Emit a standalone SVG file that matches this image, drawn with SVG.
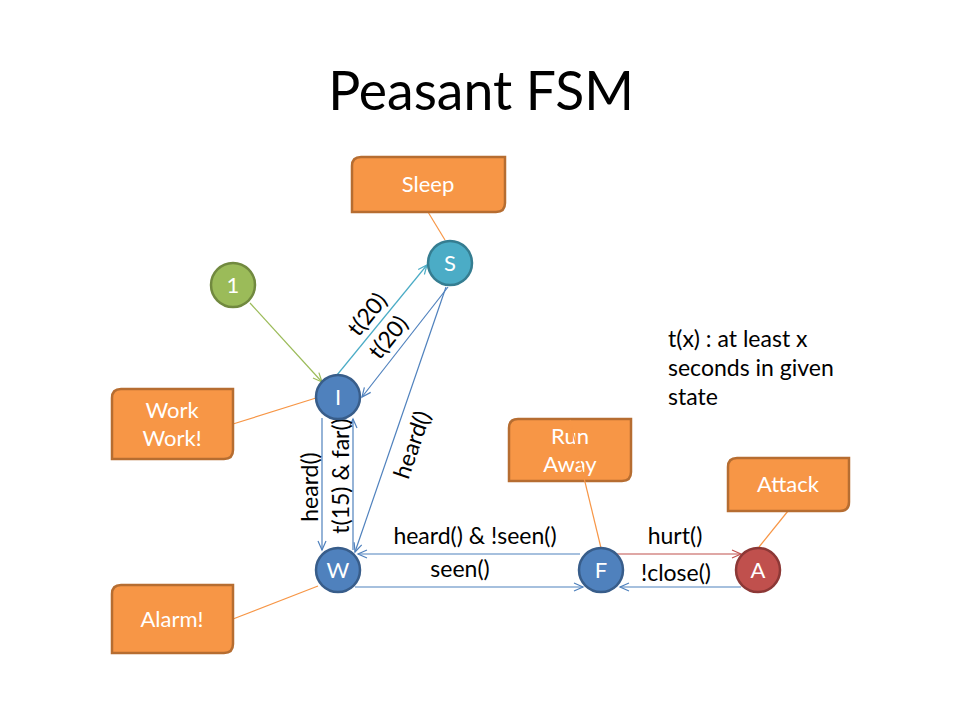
<svg xmlns="http://www.w3.org/2000/svg" width="960" height="720" viewBox="0 0 960 720">
<style>
text{font-family:Lato,"Open Sans","Liberation Sans",sans-serif;}
.title{font-size:53.5px;fill:#000;text-anchor:middle;}
.box{fill:#F79646;stroke:#B66D31;stroke-width:2.5;}
.bt{font-size:22px;fill:#fff;text-anchor:middle;}
.st{font-size:22px;fill:#fff;text-anchor:middle;}
.lbl{font-size:23px;fill:#000;text-anchor:middle;}
.note{font-size:23px;fill:#000;}
.cl{stroke:#F79646;stroke-width:1.2;fill:none;}
.e{fill:none;stroke-width:1.2;}
.blue{stroke:#4F81BD;}
.lb{stroke:#4BACC6;}
.green{stroke:#9BBB59;}
.red{stroke:#C0504D;}
</style>
<defs>
<marker id="ab" markerUnits="userSpaceOnUse" markerWidth="12" markerHeight="12" refX="10" refY="5" orient="auto"><path d="M1,1 L10,5 L1,9" fill="none" stroke="#4F81BD" stroke-width="1.2"/></marker>
<marker id="alb" markerUnits="userSpaceOnUse" markerWidth="12" markerHeight="12" refX="10" refY="5" orient="auto"><path d="M1,1 L10,5 L1,9" fill="none" stroke="#4BACC6" stroke-width="1.2"/></marker>
<marker id="ag" markerUnits="userSpaceOnUse" markerWidth="12" markerHeight="12" refX="10" refY="5" orient="auto"><path d="M1,1 L10,5 L1,9" fill="none" stroke="#9BBB59" stroke-width="1.2"/></marker>
<marker id="ar" markerUnits="userSpaceOnUse" markerWidth="12" markerHeight="12" refX="10" refY="5" orient="auto"><path d="M1,1 L10,5 L1,9" fill="none" stroke="#C0504D" stroke-width="1.2"/></marker>
</defs>
<rect width="960" height="720" fill="#fff"/>
<text class="title" x="481" y="110">Peasant FSM</text>

<g id="connectors">
<line class="e green" x1="250" y1="303" x2="322" y2="382" marker-end="url(#ag)"/>
<line class="e lb" x1="337" y1="375" x2="427" y2="265" marker-end="url(#alb)"/>
<line class="e blue" x1="448" y1="287" x2="362" y2="397" marker-end="url(#ab)"/>
<line class="e blue" x1="446" y1="287" x2="355" y2="552" marker-end="url(#ab)"/>
<line class="e blue" x1="322" y1="418" x2="322" y2="550" marker-end="url(#ab)"/>
<line class="e blue" x1="353" y1="550" x2="353" y2="419" marker-end="url(#ab)"/>
<line class="e blue" x1="580" y1="554" x2="358" y2="554" marker-end="url(#ab)"/>
<line class="e blue" x1="355" y1="587" x2="583" y2="587" marker-end="url(#ab)"/>
<line class="e red" x1="617" y1="554" x2="741" y2="554" marker-end="url(#ar)"/>
<line class="e blue" x1="741" y1="587" x2="620" y2="587" marker-end="url(#ab)"/>
<line class="cl" x1="428" y1="212" x2="445" y2="240"/>
<line class="cl" x1="233" y1="424" x2="316" y2="398"/>
<line class="cl" x1="233" y1="619" x2="318" y2="586"/>
<line class="cl" x1="788" y1="511" x2="759" y2="547"/>
</g>

<g id="labels">
<text class="lbl" transform="translate(368,315) rotate(-51)" dy="7">t(20)</text>
<text class="lbl" transform="translate(389,338) rotate(-51)" dy="7">t(20)</text>
<text class="lbl" transform="translate(413,445) rotate(-71)" dy="7">heard()</text>
<text class="lbl" transform="translate(311,487) rotate(-90)" dy="7">heard()</text>
<text class="lbl" transform="translate(342,476) rotate(-90)" dy="7">t(15) &amp; far()</text>
<text class="lbl" x="475" y="544">heard() &amp; !seen()</text>
<text class="lbl" x="460" y="577">seen()</text>
<text class="lbl" x="675" y="544">hurt()</text>
<text class="lbl" x="676" y="581">!close()</text>
<text class="note" x="668" y="347">t(x) : at least x</text>
<text class="note" x="668" y="376">seconds in given</text>
<text class="note" x="668" y="405">state</text>
</g>

<g id="box-sleep">
<path class="box" d="M361,157 H505 V203 Q505,212 496,212 H352 V166 Q352,157 361,157 Z"/>
<text class="bt" x="428" y="192">Sleep</text>
</g>
<g id="box-work">
<path class="box" d="M121,389 H233 V450 Q233,459 224,459 H112 V398 Q112,389 121,389 Z"/>
<text class="bt" x="172" y="418">Work</text>
<text class="bt" x="172" y="446">Work!</text>
</g>
<g id="box-alarm">
<path class="box" d="M121,585 H233 V644 Q233,653 224,653 H112 V594 Q112,585 121,585 Z"/>
<text class="bt" x="172" y="627">Alarm!</text>
</g>
<g id="box-run">
<path class="box" d="M518,419 H631 V472 Q631,481 622,481 H509 V428 Q509,419 518,419 Z"/>
<text class="bt" x="570" y="444">Run</text>
<text class="bt" x="570" y="472">Away</text>
<line class="cl" x1="601" y1="548" x2="570" y2="420"/>
</g>
<g id="box-attack">
<path class="box" d="M737,458 H849 V502 Q849,511 840,511 H728 V467 Q728,458 737,458 Z"/>
<text class="bt" x="788" y="492">Attack</text>
</g>

<g id="node-1">
<circle cx="233" cy="285" r="22" fill="#9BBB59" stroke="#71893F" stroke-width="2.5"/>
<text class="st" x="233" y="293">1</text>
</g>
<g id="node-S">
<circle cx="450" cy="263" r="22" fill="#4BACC6" stroke="#357D91" stroke-width="2.5"/>
<text class="st" x="450" y="271">S</text>
</g>
<g id="node-I">
<circle cx="338" cy="397" r="22" fill="#4F81BD" stroke="#385D8A" stroke-width="2.5"/>
<text class="st" x="338" y="405">I</text>
</g>
<g id="node-W">
<circle cx="338" cy="570" r="22" fill="#4F81BD" stroke="#385D8A" stroke-width="2.5"/>
<text class="st" x="338" y="578">W</text>
</g>
<g id="node-F">
<circle cx="601" cy="570" r="22" fill="#4F81BD" stroke="#385D8A" stroke-width="2.5"/>
<text class="st" x="601" y="578">F</text>
</g>
<g id="node-A">
<circle cx="758" cy="570" r="22" fill="#C0504D" stroke="#8C3836" stroke-width="2.5"/>
<text class="st" x="758" y="578">A</text>
</g>
</svg>
